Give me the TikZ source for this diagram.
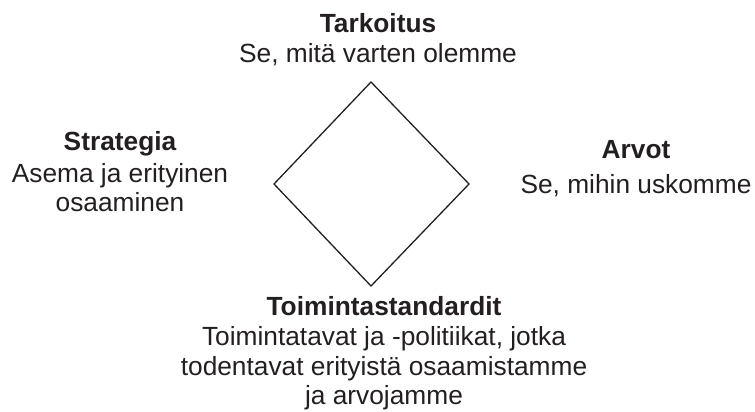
\documentclass[tikz,border=0pt]{standalone}
\usepackage{fontspec}
\setmainfont{Liberation Sans}
\definecolor{ink}{HTML}{231F20}
\begin{document}
\begin{tikzpicture}[x=1pt,y=-1pt,
  lbl/.style={anchor=base,inner sep=0pt,text=ink,font=\fontsize{26.3}{30}\selectfont},
  ttl/.style={lbl,font=\fontsize{26.3}{30}\selectfont\bfseries}]
\useasboundingbox (0,0) rectangle (755,412);
\coordinate (t) at (371,82);
\coordinate (r) at (469,184);
\coordinate (b) at (371,286);
\coordinate (l) at (274,184);
\draw[line width=1.3pt,ink,line join=miter] (t) -- (r) -- (b) -- (l) -- cycle;
% top
\node[ttl] (tark) at (378,33) {Tarkoitus};
\node[lbl] (tark1) at (378,63) {Se, mitä varten olemme};
% left
\node[ttl] (strat) at (120,150) {Strategia};
\node[lbl] (strat1) at (120,182) {Asema ja erityinen};
\node[lbl] (strat2) at (120,211) {osaaminen};
% right
\node[ttl] (arv) at (636,158) {Arvot};
\node[lbl] (arv1) at (636,193) {Se, mihin uskomme};
% bottom
\node[ttl] (toim) at (384,315) {Toimintastandardit};
\node[lbl] (toim1) at (384,345) {Toimintatavat ja -politiikat, jotka};
\node[lbl] (toim2) at (384,375) {todentavat erityistä osaamistamme};
\node[lbl] (toim3) at (384,404) {ja arvojamme};
\end{tikzpicture}
\end{document}
